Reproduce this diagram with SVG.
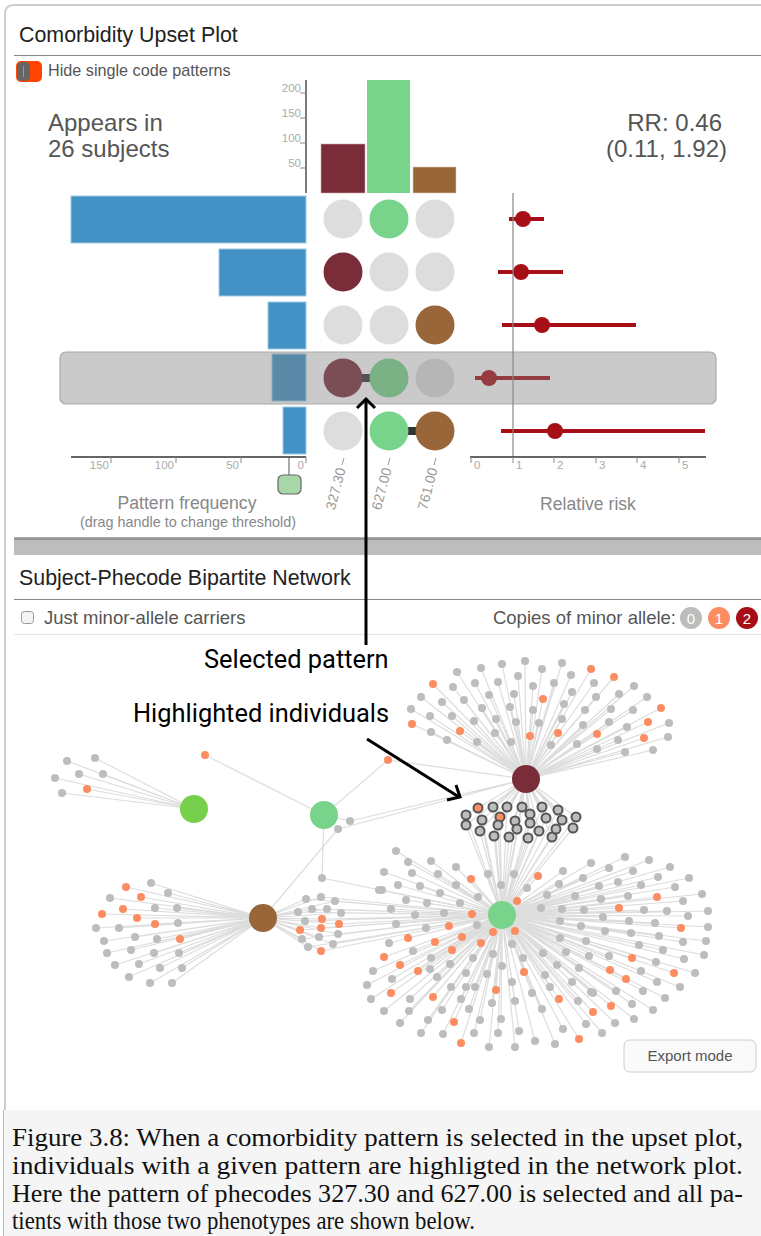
<svg xmlns="http://www.w3.org/2000/svg" width="761" height="1236" viewBox="0 0 761 1236">
<defs>
<style>
text{font-family:"Liberation Sans",Arial,sans-serif}
.ttl{font-size:21.4px;fill:#222}
.ui{fill:#555}
.tk{font-size:11.5px;fill:#aaa}
.ax{stroke:#333;stroke-width:1.3}
.tl{stroke:#888;stroke-width:1}
.off{fill:#ddd}
.bar{fill:#4292c6;stroke:#9ecae1;stroke-width:1}
.ci{stroke:#a50f15;stroke-width:4}
.pt{fill:#a50f15}
.lnk{fill:#333}
.code{font-size:14px;fill:#999}
.e{stroke:#ddd;stroke-width:1.2;fill:none}
.s{fill:#bdbdbd}
.o{fill:#fc8d62}
.hl circle{stroke:#555;stroke-width:2}
.ann{font-family:Roboto,"Liberation Sans",sans-serif;font-size:25.4px;fill:#000}
.arr{stroke:#000;stroke-width:3;fill:none}
.cap{font-family:"Liberation Serif","Times New Roman",serif;font-size:26px;fill:#111}
</style>
</defs>
<rect width="761" height="1236" fill="#fff"/>
<!-- outer frame -->
<path d="M5 1112V14Q5 5 14 5H761" fill="none" stroke="#ccc" stroke-width="2"/>

<!-- upset plot panel -->
<g id="upset-header">
<text class="ttl" x="19" y="42">Comorbidity Upset Plot</text>
<line x1="14" y1="55.5" x2="761" y2="55.5" stroke="#888"/>
<rect x="16" y="61" width="26" height="21" rx="5" fill="#ff4500"/>
<rect x="17" y="62" width="13" height="19" rx="5" fill="#666"/>
<line x1="23.5" y1="66" x2="23.5" y2="77" stroke="#999" stroke-width="1"/>
<text class="ui" x="48" y="76" font-size="16.2">Hide single code patterns</text>
<text class="ui" x="48" y="131" font-size="24">Appears in</text>
<text class="ui" x="48" y="157" font-size="24">26 subjects</text>
<text class="ui" x="722" y="131" font-size="24" text-anchor="end">RR: 0.46</text>
<text class="ui" x="727" y="157" font-size="24" text-anchor="end">(0.11, 1.92)</text>
</g>

<g id="code-size-bars">
<line class="ax" x1="306" y1="80" x2="306" y2="193"/>
<g class="tl">
<line x1="300" y1="93" x2="306" y2="93"/><line x1="300" y1="118" x2="306" y2="118"/>
<line x1="300" y1="143" x2="306" y2="143"/><line x1="300" y1="168" x2="306" y2="168"/>
</g>
<g class="tk" text-anchor="end">
<text x="301" y="92">200</text><text x="301" y="117">150</text>
<text x="301" y="142">100</text><text x="301" y="167">50</text>
</g>
<rect x="321" y="144" width="44" height="49" fill="#7a2c38" stroke="#caa" stroke-width="0.6"/>
<rect x="367" y="80" width="43" height="113" fill="#77d48a"/>
<rect x="413" y="167" width="43" height="26" fill="#99663a" stroke="#dcb" stroke-width="0.6"/>
</g>

<g id="pattern-rows">
<!-- row 1 -->
<rect class="bar" x="71" y="196" width="235" height="47"/>
<circle class="off" cx="343" cy="219" r="19.5"/><circle cx="389" cy="219" r="19.5" fill="#77d48a"/><circle class="off" cx="435" cy="219" r="19.5"/>
<line class="ci" x1="509" y1="219" x2="544" y2="219"/><circle class="pt" cx="523" cy="219" r="8"/>
<!-- row 2 -->
<rect class="bar" x="219" y="249" width="87" height="47"/>
<circle cx="343" cy="272" r="19.5" fill="#7a2c38"/><circle class="off" cx="389" cy="272" r="19.5"/><circle class="off" cx="435" cy="272" r="19.5"/>
<line class="ci" x1="498" y1="272" x2="563" y2="272"/><circle class="pt" cx="521" cy="272" r="8"/>
<!-- row 3 -->
<rect class="bar" x="268" y="302" width="38" height="47"/>
<circle class="off" cx="343" cy="325" r="19.5"/><circle class="off" cx="389" cy="325" r="19.5"/><circle cx="435" cy="325" r="19.5" fill="#99663a"/>
<line class="ci" x1="502" y1="325" x2="636" y2="325"/><circle class="pt" cx="542" cy="325" r="8"/>
<!-- row 4 (selected) -->
<rect class="bar" x="272" y="354" width="34" height="47"/>
<rect class="lnk" x="358" y="374" width="16" height="8"/>
<circle cx="343" cy="378" r="19.5" fill="#7a2c38"/><circle cx="389" cy="378" r="19.5" fill="#77d48a"/><circle class="off" cx="435" cy="378" r="19.5"/>
<line class="ci" x1="475" y1="378" x2="550" y2="378"/><circle class="pt" cx="489" cy="378" r="8"/>
<rect x="60" y="352" width="656" height="52" rx="6" fill="#7f7f7f" fill-opacity="0.41" stroke="#aaa" stroke-width="1.2"/>
<!-- row 5 -->
<rect class="bar" x="283" y="407" width="23" height="47"/>
<rect class="lnk" x="404" y="427" width="16" height="8"/>
<circle class="off" cx="343" cy="431" r="19.5"/><circle cx="389" cy="431" r="19.5" fill="#77d48a"/><circle cx="435" cy="431" r="19.5" fill="#99663a"/>
<line class="ci" x1="501" y1="431" x2="705" y2="431"/><circle class="pt" cx="555" cy="431" r="8"/>
</g>

<g id="frequency-axis">
<line class="ax" x1="71" y1="457" x2="306" y2="457"/>
<g class="tl"><line x1="111" y1="457" x2="111" y2="463"/><line x1="176" y1="457" x2="176" y2="463"/><line x1="241" y1="457" x2="241" y2="463"/><line x1="306" y1="457" x2="306" y2="463"/></g>
<g class="tk" text-anchor="end"><text x="109" y="469">150</text><text x="174" y="469">100</text><text x="239" y="469">50</text><text x="304" y="469">0</text></g>
<line x1="289" y1="457" x2="289" y2="475" stroke="#555"/>
<rect x="278" y="475" width="23" height="19" rx="5" fill="#a8d8a8" stroke="#666" stroke-width="1.2"/>
<text x="187" y="509" font-size="17.6" fill="#888" text-anchor="middle">Pattern frequency</text>
<text x="188" y="527" font-size="14.4" fill="#888" text-anchor="middle">(drag handle to change threshold)</text>
</g>

<g id="code-labels">
<g stroke="#999" stroke-width="1"><line x1="344" y1="458" x2="342" y2="465"/><line x1="390" y1="458" x2="388" y2="465"/><line x1="436" y1="458" x2="434" y2="465"/></g>
<text class="code" text-anchor="end" transform="translate(341,468) rotate(-75)" dy="0.35em">327.30</text>
<text class="code" text-anchor="end" transform="translate(387,468) rotate(-75)" dy="0.35em">627.00</text>
<text class="code" text-anchor="end" transform="translate(433,468) rotate(-75)" dy="0.35em">761.00</text>
</g>

<g id="risk-axis">
<line x1="513" y1="193" x2="513" y2="457" stroke="#888" stroke-width="1.2"/>
<line class="ax" x1="470" y1="457" x2="706" y2="457"/>
<g class="tl"><line x1="471" y1="457" x2="471" y2="463"/><line x1="513" y1="457" x2="513" y2="463"/><line x1="554" y1="457" x2="554" y2="463"/><line x1="596" y1="457" x2="596" y2="463"/><line x1="637" y1="457" x2="637" y2="463"/><line x1="679" y1="457" x2="679" y2="463"/></g>
<g class="tk"><text x="474" y="469">0</text><text x="516" y="469">1</text><text x="557" y="469">2</text><text x="599" y="469">3</text><text x="640" y="469">4</text><text x="682" y="469">5</text></g>
<text x="588" y="510" font-size="17.6" fill="#888" text-anchor="middle">Relative risk</text>
</g>

<!-- panel divider -->
<rect x="14" y="538" width="747" height="17" fill="#bdbdbd"/>
<rect x="14" y="537" width="747" height="3" fill="#777" opacity="0.6"/>

<g id="network-header">
<text class="ttl" x="19" y="585">Subject-Phecode Bipartite Network</text>
<line x1="14" y1="599.5" x2="761" y2="599.5" stroke="#888"/>
<rect x="21.5" y="611.5" width="12" height="12" rx="3" fill="#f4f4f4" stroke="#999"/>
<text class="ui" x="44" y="624" font-size="18.5">Just minor-allele carriers</text>
<text class="ui" x="676" y="624" font-size="18.5" text-anchor="end">Copies of minor allele:</text>
<circle cx="691" cy="618" r="11" fill="#bdbdbd"/><circle cx="719" cy="618" r="11" fill="#fc8d62"/><circle cx="747" cy="618" r="11" fill="#a50f15"/>
<g font-family="'DejaVu Sans Mono',monospace" font-size="15" fill="#fff" text-anchor="middle"><text x="691" y="623.5">0</text><text x="719" y="623.5">1</text><text x="747" y="623.5">2</text></g>
<line x1="14" y1="634.5" x2="761" y2="634.5" stroke="#e5e5e5"/>
</g>

<!-- network connectors -->
<g id="connectors" class="e">
<path d="M67 761L194 809M95 758L194 809M55 778L194 809M79 774L194 809M103 774L194 809M62 793L194 809M87 789L194 809"/>
<path d="M205 755L324 815M388 760L324 815M322 878L324 815M350 821L324 815M388 760L526 779M338 829L526 779M350 821L526 779M338 829L263 918M322 878L502 915"/>
<path d="M433 684L526 779M457 672L526 779M481 668L526 779M502 664L526 779M525 661L526 779M542 669L526 779M562 663L526 779M591 669L526 779M614 677L526 779M421 697L526 779M453 687L526 779M475 683L526 779M498 682L526 779M518 676L526 779M533 686L526 779M554 683L526 779M571 675L526 779M594 683L526 779M634 686L526 779M411 709L526 779M442 702L526 779M464 700L526 779M489 695L526 779M514 694L526 779M543 699L526 779M572 692L526 779M596 697L526 779M619 694L526 779M647 697L526 779M430 716L526 779M452 716L526 779M482 708L526 779M510 707L526 779M533 710L526 779M564 704L526 779M585 710L526 779M611 709L526 779M633 710L526 779M661 708L526 779M412 724L526 779M431 732L526 779M460 731L526 779M474 721L526 779M496 719L526 779M516 722L526 779M539 723L526 779M562 719L526 779M583 725L526 779M609 722L526 779M627 727L526 779M648 722L526 779M669 723L526 779M447 740L526 779M477 742L526 779M495 733L526 779M511 742L526 779M530 736L526 779M551 745L526 779M558 733L526 779M577 744L526 779M597 734L526 779M597 749L526 779M618 740L526 779M625 752L526 779M644 738L526 779M653 750L526 779M668 737L526 779"/>
<path d="M478 808L526 779M493 807L526 779M507 807L526 779M522 807L526 779M542 807L526 779M558 810L526 779M576 817L526 779M466 815L526 779M466 825L526 779M482 820L526 779M500 817L526 779M498 825L526 779M515 821L526 779M530 814L526 779M530 823L526 779M546 818L526 779M562 820L526 779M573 828L526 779M480 831L526 779M494 836L526 779M509 837L526 779M517 829L526 779M528 838L526 779M539 831L526 779M552 837L526 779M556 829L526 779M478 808L502 915M493 807L502 915M507 807L502 915M522 807L502 915M542 807L502 915M558 810L502 915M576 817L502 915M466 815L502 915M466 825L502 915M482 820L502 915M500 817L502 915M498 825L502 915M515 821L502 915M530 814L502 915M530 823L502 915M546 818L502 915M562 820L502 915M573 828L502 915M480 831L502 915M494 836L502 915M509 837L502 915M517 829L502 915M528 838L502 915M539 831L502 915M552 837L502 915M556 829L502 915"/>
<path d="M151 883L263 918M168 893L263 918M126 887L263 918M110 898L263 918M141 897L263 918M123 909L263 918M155 908L263 918M177 908L263 918M102 914L263 918M137 918L263 918M96 928L263 918M119 928L263 918M155 924L263 918M178 923L263 918M104 941L263 918M135 937L263 918M157 939L263 918M180 939L263 918M107 953L263 918M131 950L263 918M154 953L263 918M179 953L263 918M115 965L263 918M139 964L263 918M160 968L263 918M182 968L263 918M129 977L263 918M150 983L263 918M172 983L263 918"/>
<path d="M306 899L263 918M321 897L263 918M335 901L263 918M298 912L263 918M312 909L263 918M327 909L263 918M341 913L263 918M305 921L263 918M322 919L263 918M339 924L263 918M300 930L263 918M321 928L263 918M338 934L263 918M302 939L263 918M319 937L263 918M333 944L263 918M308 947L263 918M321 951L263 918M306 899L502 915M321 897L502 915M335 901L502 915M298 912L502 915M312 909L502 915M327 909L502 915M341 913L502 915M305 921L502 915M322 919L502 915M339 924L502 915M300 930L502 915M321 928L502 915M338 934L502 915M302 939L502 915M319 937L502 915M333 944L502 915M308 947L502 915M321 951L502 915"/>
<path d="M396 851L502 915M408 862L502 915M431 861L502 915M456 867L502 915M384 872L502 915M412 873L502 915M438 874L502 915M471 879L502 915M488 874L502 915M514 874L502 915M538 876L502 915M563 871L502 915M591 863L502 915M609 868L502 915M625 857L502 915M649 860L502 915M670 867L502 915M398 885L502 915M420 886L502 915M456 885L502 915M501 885L502 915M527 888L502 915M559 884L502 915M583 878L502 915M599 886L502 915M618 882L502 915M633 871L502 915M641 885L502 915M658 877L502 915M675 887L502 915M689 878L502 915M382 890L502 915M406 900L502 915M427 903L502 915M440 893L502 915M460 903L502 915M478 897L502 915M517 901L502 915M547 895L502 915M575 896L502 915M601 899L502 915M628 896L502 915M657 897L502 915M683 901L502 915M702 894L502 915M391 909L502 915M415 915L502 915M444 913L502 915M472 914L502 915M541 908L502 915M562 909L502 915M584 910L502 915M619 908L502 915M644 910L502 915M667 911L502 915M688 916L502 915M708 911L502 915M396 924L502 915M426 928L502 915M449 926L502 915M477 925L502 915M493 932L502 915M515 931L502 915M560 921L502 915M581 926L502 915M603 917L502 915M629 921L502 915M655 923L502 915M681 928L502 915M708 927L502 915M389 943L502 915M408 938L502 915M435 942L502 915M462 937L502 915M481 943L502 915M560 938L502 915M586 941L502 915M605 931L502 915M631 933L502 915M659 936L502 915M683 942L502 915M706 941L502 915"/>
<path d="M384 957L502 915M413 951L502 915M431 958L502 915M452 950L502 915M473 958L502 915M493 954L502 915M512 944L502 915M523 958L502 915M543 953L502 915M566 952L502 915M589 956L502 915M609 956L502 915M632 958L502 915M639 945L502 915M663 950L502 915M684 959L502 915M704 955L502 915M400 965L502 915M430 969L502 915M450 964L502 915M466 973L502 915M487 974L502 915M502 966L502 915M524 972L502 915M545 975L502 915M557 965L502 915M579 968L502 915M610 970L502 915M641 971L502 915M656 962L502 915M674 973L502 915M695 973L502 915M392 979L502 915M418 971L502 915M437 977L502 915M451 987L502 915M466 987L502 915M475 987L502 915M496 990L502 915M512 982L502 915M532 993L502 915M550 987L502 915M572 982L502 915M591 992L502 915M616 991L502 915M626 979L502 915M643 991L502 915M657 982L502 915M665 998L502 915M680 987L502 915M391 993L502 915M410 999L502 915M433 997L502 915M461 999L502 915M469 1009L502 915M492 1003L502 915M515 1001L502 915M542 1009L502 915M559 999L502 915M578 1001L502 915M593 993L502 915M611 1006L502 915M632 1004L502 915M653 1010L502 915M384 1011L502 915M409 1011L502 915M442 1010L502 915M480 1020L502 915M501 1019L502 915M519 1031L502 915M535 1041L502 915M555 1044L502 915M563 1029L502 915M586 1024L502 915M593 1012L502 915M615 1023L502 915M634 1019L502 915M400 1023L502 915M428 1020L502 915M454 1022L502 915M474 1033L502 915M421 1033L502 915M443 1034L502 915M461 1043L502 915M489 1047L502 915M515 1047L502 915M498 1033L502 915M579 1039L502 915M602 1033L502 915M379 890L502 915M373 971L502 915M367 985L502 915M371 999L502 915"/>
</g>

<!-- subject nodes -->
<g id="subjects-left">
<circle class="s" cx="67" cy="761" r="4"/><circle class="s" cx="95" cy="758" r="4"/><circle class="s" cx="55" cy="778" r="4"/><circle class="s" cx="79" cy="774" r="4"/><circle class="s" cx="103" cy="774" r="4"/><circle class="s" cx="62" cy="793" r="4"/><circle class="o" cx="87" cy="789" r="4"/>
<circle class="o" cx="205" cy="755" r="4"/><circle class="o" cx="388" cy="760" r="4"/><circle class="s" cx="322" cy="878" r="4"/><circle class="s" cx="350" cy="821" r="4"/><circle class="s" cx="338" cy="829" r="4"/>
</g>
<g id="subjects-327">
<circle class="o" cx="433" cy="684" r="4"/><circle class="s" cx="457" cy="672" r="4"/><circle class="s" cx="481" cy="668" r="4"/><circle class="s" cx="502" cy="664" r="4"/><circle class="s" cx="525" cy="661" r="4"/><circle class="s" cx="542" cy="669" r="4"/><circle class="s" cx="562" cy="663" r="4"/><circle class="o" cx="591" cy="669" r="4"/><circle class="o" cx="614" cy="677" r="4"/>
<circle class="s" cx="421" cy="697" r="4"/><circle class="s" cx="453" cy="687" r="4"/><circle class="s" cx="475" cy="683" r="4"/><circle class="s" cx="498" cy="682" r="4"/><circle class="s" cx="518" cy="676" r="4"/><circle class="s" cx="533" cy="686" r="4"/><circle class="s" cx="554" cy="683" r="4"/><circle class="s" cx="571" cy="675" r="4"/><circle class="s" cx="594" cy="683" r="4"/><circle class="s" cx="634" cy="686" r="4"/>
<circle class="s" cx="411" cy="709" r="4"/><circle class="s" cx="442" cy="702" r="4"/><circle class="s" cx="464" cy="700" r="4"/><circle class="s" cx="489" cy="695" r="4"/><circle class="s" cx="514" cy="694" r="4"/><circle class="o" cx="543" cy="699" r="4"/><circle class="s" cx="572" cy="692" r="4"/><circle class="s" cx="596" cy="697" r="4"/><circle class="s" cx="619" cy="694" r="4"/><circle class="s" cx="647" cy="697" r="4"/>
<circle class="s" cx="430" cy="716" r="4"/><circle class="s" cx="452" cy="716" r="4"/><circle class="s" cx="482" cy="708" r="4"/><circle class="s" cx="510" cy="707" r="4"/><circle class="s" cx="533" cy="710" r="4"/><circle class="s" cx="564" cy="704" r="4"/><circle class="s" cx="585" cy="710" r="4"/><circle class="s" cx="611" cy="709" r="4"/><circle class="s" cx="633" cy="710" r="4"/><circle class="o" cx="661" cy="708" r="4"/>
<circle class="o" cx="412" cy="724" r="4"/><circle class="s" cx="431" cy="732" r="4"/><circle class="o" cx="460" cy="731" r="4"/><circle class="s" cx="474" cy="721" r="4"/><circle class="s" cx="496" cy="719" r="4"/><circle class="s" cx="516" cy="722" r="4"/><circle class="s" cx="539" cy="723" r="4"/><circle class="s" cx="562" cy="719" r="4"/><circle class="s" cx="583" cy="725" r="4"/><circle class="s" cx="609" cy="722" r="4"/><circle class="s" cx="627" cy="727" r="4"/><circle class="o" cx="648" cy="722" r="4"/><circle class="s" cx="669" cy="723" r="4"/>
<circle class="s" cx="447" cy="740" r="4"/><circle class="s" cx="477" cy="742" r="4"/><circle class="s" cx="495" cy="733" r="4"/><circle class="s" cx="511" cy="742" r="4"/><circle class="o" cx="530" cy="736" r="4"/><circle class="s" cx="551" cy="745" r="4"/><circle class="o" cx="558" cy="733" r="4"/><circle class="s" cx="577" cy="744" r="4"/><circle class="o" cx="597" cy="734" r="4"/><circle class="s" cx="597" cy="749" r="4"/><circle class="s" cx="618" cy="740" r="4"/><circle class="s" cx="625" cy="752" r="4"/><circle class="o" cx="644" cy="738" r="4"/><circle class="s" cx="653" cy="750" r="4"/><circle class="s" cx="668" cy="737" r="4"/>
</g>
<g id="subjects-highlighted" class="hl">
<circle class="o" cx="478" cy="808" r="4.5"/><circle class="s" cx="493" cy="807" r="4.5"/><circle class="s" cx="507" cy="807" r="4.5"/><circle class="s" cx="522" cy="807" r="4.5"/><circle class="s" cx="542" cy="807" r="4.5"/><circle class="s" cx="558" cy="810" r="4.5"/><circle class="s" cx="576" cy="817" r="4.5"/>
<circle class="s" cx="466" cy="815" r="4.5"/><circle class="s" cx="466" cy="825" r="4.5"/><circle class="s" cx="482" cy="820" r="4.5"/><circle class="o" cx="500" cy="817" r="4.5"/><circle class="s" cx="498" cy="825" r="4.5"/><circle class="s" cx="515" cy="821" r="4.5"/><circle class="s" cx="530" cy="814" r="4.5"/><circle class="s" cx="530" cy="823" r="4.5"/><circle class="s" cx="546" cy="818" r="4.5"/><circle class="s" cx="562" cy="820" r="4.5"/><circle class="s" cx="573" cy="828" r="4.5"/>
<circle class="s" cx="480" cy="831" r="4.5"/><circle class="s" cx="494" cy="836" r="4.5"/><circle class="s" cx="509" cy="837" r="4.5"/><circle class="s" cx="517" cy="829" r="4.5"/><circle class="s" cx="528" cy="838" r="4.5"/><circle class="s" cx="539" cy="831" r="4.5"/><circle class="s" cx="552" cy="837" r="4.5"/><circle class="s" cx="556" cy="829" r="4.5"/>
</g>
<g id="subjects-761">
<circle class="s" cx="151" cy="883" r="4"/><circle class="s" cx="168" cy="893" r="4"/><circle class="o" cx="126" cy="887" r="4"/><circle class="s" cx="110" cy="898" r="4"/><circle class="o" cx="141" cy="897" r="4"/><circle class="o" cx="123" cy="909" r="4"/><circle class="s" cx="155" cy="908" r="4"/><circle class="s" cx="177" cy="908" r="4"/><circle class="o" cx="102" cy="914" r="4"/><circle class="o" cx="137" cy="918" r="4"/><circle class="s" cx="96" cy="928" r="4"/><circle class="s" cx="119" cy="928" r="4"/><circle class="o" cx="155" cy="924" r="4"/><circle class="s" cx="178" cy="923" r="4"/><circle class="s" cx="104" cy="941" r="4"/><circle class="s" cx="135" cy="937" r="4"/><circle class="s" cx="157" cy="939" r="4"/><circle class="o" cx="180" cy="939" r="4"/><circle class="s" cx="107" cy="953" r="4"/><circle class="s" cx="131" cy="950" r="4"/><circle class="s" cx="154" cy="953" r="4"/><circle class="s" cx="179" cy="953" r="4"/><circle class="s" cx="115" cy="965" r="4"/><circle class="s" cx="139" cy="964" r="4"/><circle class="s" cx="160" cy="968" r="4"/><circle class="s" cx="182" cy="968" r="4"/><circle class="s" cx="129" cy="977" r="4"/><circle class="s" cx="150" cy="983" r="4"/><circle class="s" cx="172" cy="983" r="4"/>
<circle class="s" cx="306" cy="899" r="4"/><circle class="s" cx="321" cy="897" r="4"/><circle class="s" cx="335" cy="901" r="4"/><circle class="s" cx="298" cy="912" r="4"/><circle class="s" cx="312" cy="909" r="4"/><circle class="s" cx="327" cy="909" r="4"/><circle class="s" cx="341" cy="913" r="4"/><circle class="s" cx="305" cy="921" r="4"/><circle class="o" cx="322" cy="919" r="4"/><circle class="o" cx="339" cy="924" r="4"/><circle class="o" cx="300" cy="930" r="4"/><circle class="o" cx="321" cy="928" r="4"/><circle class="s" cx="338" cy="934" r="4"/><circle class="s" cx="302" cy="939" r="4"/><circle class="s" cx="319" cy="937" r="4"/><circle class="s" cx="333" cy="944" r="4"/><circle class="s" cx="308" cy="947" r="4"/><circle class="o" cx="321" cy="951" r="4"/>
</g>
<g id="subjects-627">
<circle class="s" cx="396" cy="851" r="4"/><circle class="s" cx="408" cy="862" r="4"/><circle class="s" cx="431" cy="861" r="4"/><circle class="s" cx="456" cy="867" r="4"/><circle class="s" cx="384" cy="872" r="4"/><circle class="s" cx="412" cy="873" r="4"/><circle class="s" cx="438" cy="874" r="4"/><circle class="o" cx="471" cy="879" r="4"/><circle class="s" cx="488" cy="874" r="4"/><circle class="s" cx="514" cy="874" r="4"/><circle class="o" cx="538" cy="876" r="4"/><circle class="s" cx="563" cy="871" r="4"/><circle class="s" cx="591" cy="863" r="4"/><circle class="s" cx="609" cy="868" r="4"/><circle class="s" cx="625" cy="857" r="4"/><circle class="s" cx="649" cy="860" r="4"/><circle class="s" cx="670" cy="867" r="4"/>
<circle class="s" cx="398" cy="885" r="4"/><circle class="s" cx="420" cy="886" r="4"/><circle class="s" cx="456" cy="885" r="4"/><circle class="s" cx="501" cy="885" r="4"/><circle class="s" cx="527" cy="888" r="4"/><circle class="s" cx="559" cy="884" r="4"/><circle class="s" cx="583" cy="878" r="4"/><circle class="s" cx="599" cy="886" r="4"/><circle class="s" cx="618" cy="882" r="4"/><circle class="s" cx="633" cy="871" r="4"/><circle class="s" cx="641" cy="885" r="4"/><circle class="s" cx="658" cy="877" r="4"/><circle class="s" cx="675" cy="887" r="4"/><circle class="s" cx="689" cy="878" r="4"/>
<circle class="s" cx="382" cy="890" r="4"/><circle class="s" cx="406" cy="900" r="4"/><circle class="s" cx="427" cy="903" r="4"/><circle class="s" cx="440" cy="893" r="4"/><circle class="s" cx="460" cy="903" r="4"/><circle class="s" cx="478" cy="897" r="4"/><circle class="o" cx="517" cy="901" r="4"/><circle class="s" cx="547" cy="895" r="4"/><circle class="s" cx="575" cy="896" r="4"/><circle class="s" cx="601" cy="899" r="4"/><circle class="s" cx="628" cy="896" r="4"/><circle class="o" cx="657" cy="897" r="4"/><circle class="s" cx="683" cy="901" r="4"/><circle class="s" cx="702" cy="894" r="4"/>
<circle class="s" cx="391" cy="909" r="4"/><circle class="s" cx="415" cy="915" r="4"/><circle class="s" cx="444" cy="913" r="4"/><circle class="o" cx="472" cy="914" r="4"/><circle class="s" cx="541" cy="908" r="4"/><circle class="s" cx="562" cy="909" r="4"/><circle class="s" cx="584" cy="910" r="4"/><circle class="o" cx="619" cy="908" r="4"/><circle class="s" cx="644" cy="910" r="4"/><circle class="s" cx="667" cy="911" r="4"/><circle class="s" cx="688" cy="916" r="4"/><circle class="s" cx="708" cy="911" r="4"/>
<circle class="s" cx="396" cy="924" r="4"/><circle class="s" cx="426" cy="928" r="4"/><circle class="o" cx="449" cy="926" r="4"/><circle class="s" cx="477" cy="925" r="4"/><circle class="o" cx="493" cy="932" r="4"/><circle class="o" cx="515" cy="931" r="4"/><circle class="s" cx="560" cy="921" r="4"/><circle class="s" cx="581" cy="926" r="4"/><circle class="s" cx="603" cy="917" r="4"/><circle class="s" cx="629" cy="921" r="4"/><circle class="s" cx="655" cy="923" r="4"/><circle class="o" cx="681" cy="928" r="4"/><circle class="s" cx="708" cy="927" r="4"/>
<circle class="s" cx="389" cy="943" r="4"/><circle class="o" cx="408" cy="938" r="4"/><circle class="o" cx="435" cy="942" r="4"/><circle class="o" cx="462" cy="937" r="4"/><circle class="o" cx="481" cy="943" r="4"/><circle class="s" cx="560" cy="938" r="4"/><circle class="s" cx="586" cy="941" r="4"/><circle class="s" cx="605" cy="931" r="4"/><circle class="s" cx="631" cy="933" r="4"/><circle class="s" cx="659" cy="936" r="4"/><circle class="s" cx="683" cy="942" r="4"/><circle class="s" cx="706" cy="941" r="4"/>
<circle class="o" cx="384" cy="957" r="4"/><circle class="s" cx="413" cy="951" r="4"/><circle class="s" cx="431" cy="958" r="4"/><circle class="o" cx="452" cy="950" r="4"/><circle class="s" cx="473" cy="958" r="4"/><circle class="s" cx="493" cy="954" r="4"/><circle class="s" cx="512" cy="944" r="4"/><circle class="s" cx="523" cy="958" r="4"/><circle class="s" cx="543" cy="953" r="4"/><circle class="s" cx="566" cy="952" r="4"/><circle class="s" cx="589" cy="956" r="4"/><circle class="s" cx="609" cy="956" r="4"/><circle class="o" cx="632" cy="958" r="4"/><circle class="s" cx="639" cy="945" r="4"/><circle class="s" cx="663" cy="950" r="4"/><circle class="s" cx="684" cy="959" r="4"/><circle class="s" cx="704" cy="955" r="4"/>
<circle class="o" cx="400" cy="965" r="4"/><circle class="s" cx="430" cy="969" r="4"/><circle class="s" cx="450" cy="964" r="4"/><circle class="s" cx="466" cy="973" r="4"/><circle class="s" cx="487" cy="974" r="4"/><circle class="s" cx="502" cy="966" r="4"/><circle class="o" cx="524" cy="972" r="4"/><circle class="s" cx="545" cy="975" r="4"/><circle class="s" cx="557" cy="965" r="4"/><circle class="s" cx="579" cy="968" r="4"/><circle class="o" cx="610" cy="970" r="4"/><circle class="s" cx="641" cy="971" r="4"/><circle class="s" cx="656" cy="962" r="4"/><circle class="o" cx="674" cy="973" r="4"/><circle class="s" cx="695" cy="973" r="4"/>
<circle class="s" cx="392" cy="979" r="4"/><circle class="o" cx="418" cy="971" r="4"/><circle class="s" cx="437" cy="977" r="4"/><circle class="s" cx="451" cy="987" r="4"/><circle class="s" cx="466" cy="987" r="4"/><circle class="s" cx="475" cy="987" r="4"/><circle class="o" cx="496" cy="990" r="4"/><circle class="s" cx="512" cy="982" r="4"/><circle class="s" cx="532" cy="993" r="4"/><circle class="s" cx="550" cy="987" r="4"/><circle class="s" cx="572" cy="982" r="4"/><circle class="s" cx="591" cy="992" r="4"/><circle class="s" cx="616" cy="991" r="4"/><circle class="o" cx="626" cy="979" r="4"/><circle class="s" cx="643" cy="991" r="4"/><circle class="s" cx="657" cy="982" r="4"/><circle class="s" cx="665" cy="998" r="4"/><circle class="s" cx="680" cy="987" r="4"/>
<circle class="o" cx="391" cy="993" r="4"/><circle class="s" cx="410" cy="999" r="4"/><circle class="o" cx="433" cy="997" r="4"/><circle class="s" cx="461" cy="999" r="4"/><circle class="s" cx="469" cy="1009" r="4"/><circle class="s" cx="492" cy="1003" r="4"/><circle class="s" cx="515" cy="1001" r="4"/><circle class="s" cx="542" cy="1009" r="4"/><circle class="o" cx="559" cy="999" r="4"/><circle class="s" cx="578" cy="1001" r="4"/><circle class="s" cx="593" cy="993" r="4"/><circle class="o" cx="611" cy="1006" r="4"/><circle class="s" cx="632" cy="1004" r="4"/><circle class="s" cx="653" cy="1010" r="4"/>
<circle class="s" cx="384" cy="1011" r="4"/><circle class="s" cx="409" cy="1011" r="4"/><circle class="s" cx="442" cy="1010" r="4"/><circle class="s" cx="480" cy="1020" r="4"/><circle class="s" cx="501" cy="1019" r="4"/><circle class="s" cx="519" cy="1031" r="4"/><circle class="s" cx="535" cy="1041" r="4"/><circle class="s" cx="555" cy="1044" r="4"/><circle class="s" cx="563" cy="1029" r="4"/><circle class="s" cx="586" cy="1024" r="4"/><circle class="o" cx="593" cy="1012" r="4"/><circle class="s" cx="615" cy="1023" r="4"/><circle class="s" cx="634" cy="1019" r="4"/>
<circle class="s" cx="400" cy="1023" r="4"/><circle class="s" cx="428" cy="1020" r="4"/><circle class="o" cx="454" cy="1022" r="4"/><circle class="s" cx="474" cy="1033" r="4"/><circle class="s" cx="421" cy="1033" r="4"/><circle class="s" cx="443" cy="1034" r="4"/><circle class="o" cx="461" cy="1043" r="4"/><circle class="s" cx="489" cy="1047" r="4"/><circle class="s" cx="515" cy="1047" r="4"/><circle class="s" cx="498" cy="1033" r="4"/><circle class="o" cx="579" cy="1039" r="4"/><circle class="s" cx="602" cy="1033" r="4"/>
<circle class="s" cx="379" cy="890" r="4"/><circle class="s" cx="373" cy="971" r="4"/><circle class="s" cx="367" cy="985" r="4"/><circle class="s" cx="371" cy="999" r="4"/>
</g>

<!-- phecode hubs -->
<g id="phecode-hub-a"><circle cx="194" cy="809" r="14" fill="#76d04b"/></g>
<g id="phecode-hub-b"><circle cx="324" cy="815" r="14" fill="#77d48a"/></g>
<g id="phecode-327-30"><circle cx="526" cy="779" r="14" fill="#7a2c38"/></g>
<g id="phecode-761-00"><circle cx="263" cy="918" r="14" fill="#99663a"/></g>
<g id="phecode-627-00"><circle cx="502" cy="915" r="14" fill="#77d48a"/></g>

<g id="export-button">
<rect x="624" y="1040" width="132" height="32" rx="6" fill="#fafafa" stroke="#ccc"/>
<text class="ui" x="690" y="1061" font-size="15" text-anchor="middle">Export mode</text>
</g>

<!-- annotations -->
<g id="annotations">
<text class="ann" x="204" y="668">Selected pattern</text>
<text class="ann" x="133" y="722">Highlighted individuals</text>
<line class="arr" x1="366" y1="399" x2="366" y2="645"/>
<polyline class="arr" points="357,408 366,399 375,408"/>
<line class="arr" x1="367" y1="739" x2="459" y2="797"/>
<polyline class="arr" points="456,785 460,797 447,800"/>
</g>

<!-- caption -->
<g id="caption">
<rect x="3" y="1110" width="758" height="126" fill="#f5f5f5"/>
<line x1="3.5" y1="1110" x2="3.5" y2="1236" stroke="#bbb"/>
<text class="cap" x="12" y="1146" textLength="731" lengthAdjust="spacingAndGlyphs">Figure 3.8: When a comorbidity pattern is selected in the upset plot,</text>
<text class="cap" x="12" y="1174" textLength="731" lengthAdjust="spacingAndGlyphs">individuals with a given pattern are highligted in the network plot.</text>
<text class="cap" x="12" y="1202" textLength="731" lengthAdjust="spacingAndGlyphs">Here the pattern of phecodes 327.30 and 627.00 is selected and all pa-</text>
<text class="cap" x="12" y="1229" textLength="463" lengthAdjust="spacingAndGlyphs">tients with those two phenotypes are shown below.</text>
</g>
</svg>
